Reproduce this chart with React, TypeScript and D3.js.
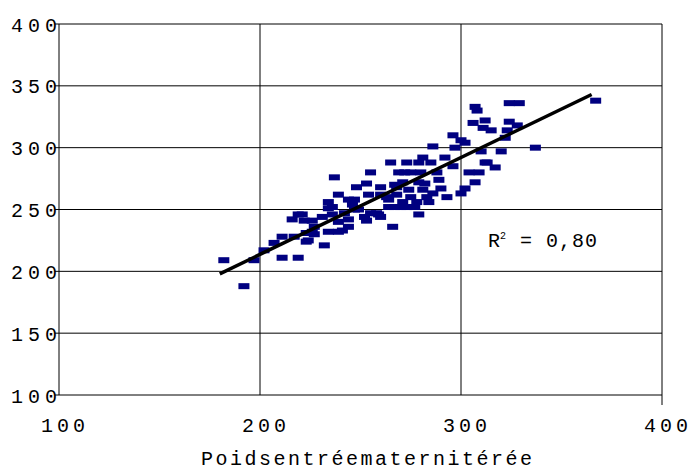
import React from "react";
import * as d3 from "d3";

// Poids entrée (x) et poids sortie (y)
const poidsEntree = [
  182, 192, 197, 202, 207, 211, 211, 219, 217, 219, 216, 222, 223, 223, 227, 227, 232, 234, 239, 239,
  244, 244, 234, 234, 239, 237, 244, 247, 252, 255, 259, 266, 248, 253, 254, 255, 260, 263, 265, 268,
  264, 270, 273, 272, 279, 281, 279, 269, 267, 260, 247, 264, 236, 246, 221, 226, 231, 236, 242, 249,
  258, 267, 226, 241, 253, 260, 224, 286, 297, 302, 292, 285, 296, 275, 280, 288, 304, 309, 312, 271,
  279, 282, 289, 307, 274, 281, 290, 302, 286, 268, 275, 283, 293, 300, 271, 278, 284, 273, 277, 307,
  308, 324, 329, 324, 306, 312, 311, 315, 323, 328, 322, 310, 320, 337, 313, 317, 296, 300, 367,
];
const poidsSortie = [
  209, 188, 209, 217, 223, 228, 211, 211, 228, 246, 242, 241, 224, 231, 236, 230, 221, 232, 232, 240,
  236, 242, 251, 256, 262, 276, 258, 250, 244, 247, 246, 236, 268, 271, 262, 280, 268, 260, 288, 268,
  252, 252, 288, 280, 288, 292, 246, 280, 270, 262, 258, 258, 252, 254, 246, 241, 244, 246, 247, 250,
  247, 252, 232, 233, 241, 244, 225, 301, 300, 304, 292, 288, 285, 280, 280, 280, 280, 280, 288, 272,
  272, 271, 274, 272, 266, 266, 267, 267, 263, 262, 260, 260, 260, 263, 256, 256, 256, 252, 252, 333,
  330, 336, 336, 321, 320, 322, 316, 314, 314, 318, 308, 297, 297, 300, 288, 284, 310, 306, 338,
];

// droite de régression (extrémités)
const trendX = [180, 365];
const trendY = [198, 343];
const r2Label = "0,80";

const xTicks = [100, 200, 300, 400];
const yTicks = [100, 150, 200, 250, 300, 350, 400];
const xTitle = "Poidsentréematernitérée";

const font = "'Liberation Mono', 'Courier New', monospace";

export default function App() {
  const width = 693;
  const height = 470;
  const x = d3.scaleLinear().domain([100, 400]).range([59, 662]);
  const y = d3.scaleLinear().domain([100, 400]).range([395, 24]);

  const line = d3
    .line<number>()
    .x((d) => x(d))
    .y((_, i) => y(trendY[i]));

  return (
    <svg
      width={width}
      height={height}
      style={{ position: "absolute", left: 0, top: 0, background: "#fff" }}
    >
      {/* grille */}
      {yTicks.map((t) => (
        <line key={"gy" + t} x1={55} x2={x(400)} y1={y(t)} y2={y(t)} stroke="#000" strokeWidth={1} />
      ))}
      {xTicks.map((t) => (
        <line
          key={"gx" + t}
          x1={x(t)}
          x2={x(t)}
          y1={y(400)}
          y2={t === 400 ? y(100) + 10 : y(100)}
          stroke="#000"
          strokeWidth={1}
        />
      ))}

      {/* points */}
      {poidsEntree.map((d, i) => (
        <rect
          key={"p" + i}
          x={x(d) - 5.5}
          y={y(poidsSortie[i]) - 3}
          width={11}
          height={6}
          fill="#000080"
        />
      ))}

      {/* tendance */}
      <path d={line(trendX) || ""} fill="none" stroke="#000" strokeWidth={3.5} />

      {/* étiquettes */}
      {yTicks.map((t) => (
        <text
          key={"ly" + t}
          x={62}
          y={y(t) + 7.5}
          textAnchor="end"
          fontFamily={font}
          fontSize={20}
          letterSpacing={5}
          fill="#000"
        >
          {t}
        </text>
      ))}
      {xTicks.map((t) => (
        <text
          key={"lx" + t}
          x={x(t) - 18}
          y={432}
          fontFamily={font}
          fontSize={20}
          letterSpacing={4}
          fill="#000"
        >
          {t}
        </text>
      ))}
      <text x={201} y={465} fontFamily={font} fontSize={20} letterSpacing={2.5} fill="#000">
        {xTitle}
      </text>

      <text x={488} y={247} fontFamily={font} fontSize={20} fill="#000">
        R
        <tspan fontSize={10} dy={-8}>
          2
        </tspan>
        <tspan x={520} dy={8} letterSpacing={1}>
          {"= " + r2Label}
        </tspan>
      </text>
    </svg>
  );
}
